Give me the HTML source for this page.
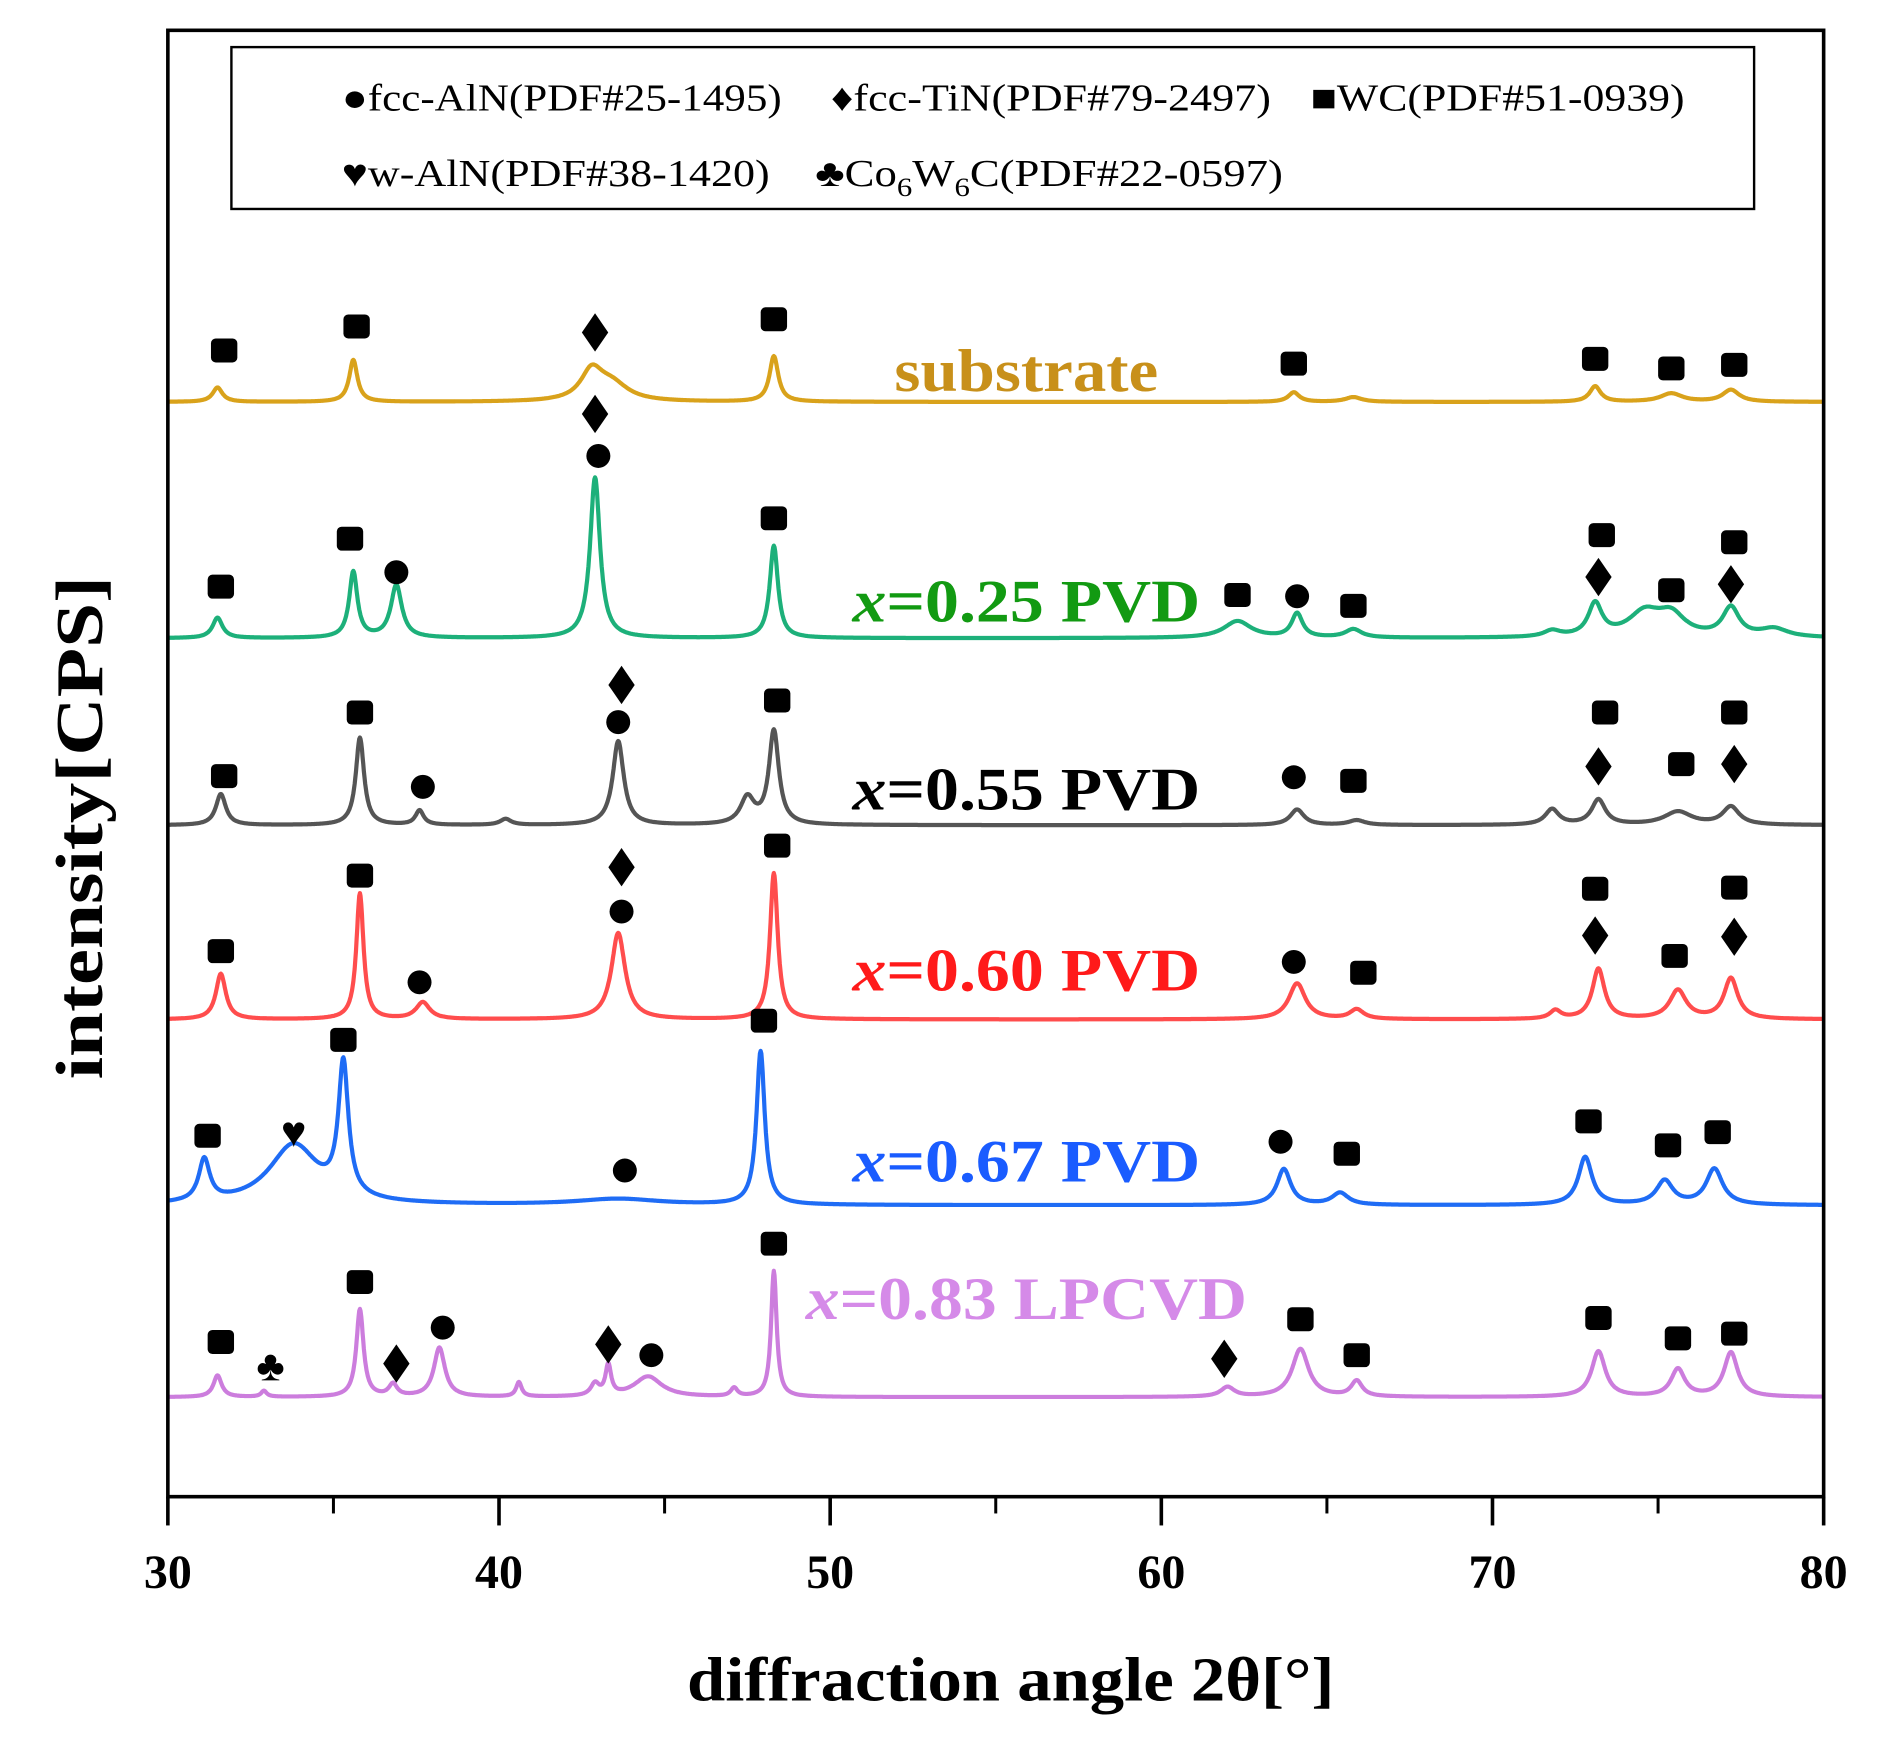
<!DOCTYPE html>
<html><head><meta charset="utf-8"><style>
html,body{margin:0;padding:0;background:#fff;}
svg{display:block;font-family:"Liberation Serif",serif;}
</style></head><body>
<svg id="chart" width="1880" height="1756" viewBox="0 0 1568 1464" xmlns="http://www.w3.org/2000/svg">
<rect x="0" y="0" width="1568" height="1464" fill="#fff"/>
<g id="series"></g>
<g id="markers"></g>
<rect x="140" y="25" width="1381" height="1223" fill="none" stroke="#000" stroke-width="3"/>
<g id="xaxis"></g>
<text x="843" y="1418" text-anchor="middle" font-size="52" font-weight="bold" textLength="540" lengthAdjust="spacingAndGlyphs">diffraction angle 2θ[°]</text>
<text transform="translate(85,690) rotate(-90)" text-anchor="middle" font-size="56" font-weight="bold" textLength="420" lengthAdjust="spacingAndGlyphs">intensity[CPS]</text>
<g>
<rect x="193" y="39" width="1270" height="135" fill="#fff" stroke="#000" stroke-width="2"/>
<text x="285" y="92" font-size="32" textLength="367" lengthAdjust="spacingAndGlyphs">●fcc-AlN(PDF#25-1495)</text>
<text x="693" y="92" font-size="32" textLength="367" lengthAdjust="spacingAndGlyphs">♦fcc-TiN(PDF#79-2497)</text>
<text x="1093" y="92" font-size="32" textLength="312" lengthAdjust="spacingAndGlyphs">■WC(PDF#51-0939)</text>
<text x="285" y="155" font-size="32" textLength="357" lengthAdjust="spacingAndGlyphs">♥w-AlN(PDF#38-1420)</text>
<text x="680" y="155" font-size="32" textLength="390" lengthAdjust="spacingAndGlyphs">♣Co<tspan font-size="22" dy="8">6</tspan><tspan dy="-8">W</tspan><tspan font-size="22" dy="8">6</tspan><tspan dy="-8">C(PDF#22-0597)</tspan></text>
</g>
</svg>
<script>
const xTicks=[30,40,50,60,70,80];
const xMinor=[35,45,55,65,75];
const seriesNames=["substrate","x=0.25 PVD","x=0.55 PVD","x=0.60 PVD","x=0.67 PVD","x=0.83 LPCVD"];
const seriesBase=[335,532,688,850,1005,1165];
const seriesColors=["#d9a21b","#1db07a","#555555","#ff4d4d","#1f6cf5","#cc7ddd"];
const labelColors=["#c8901a","#129a12","#000000","#ff1a1a","#1a5cff","#d58ae8"];
const labelY=[326,518,675,826,985,1100];
const labelWidth=[220,290,290,290,290,368];
const peakPos=[
[31.5,35.6,42.8,43.4,48.3,64.0,65.8,73.1,75.4,77.2],
[31.5,35.6,36.9,42.9,48.3,62.3,64.1,65.8,71.8,73.1,74.6,75.4,77.2,78.5],
[31.6,35.8,37.6,40.2,43.6,47.5,48.3,64.1,65.9,71.8,73.2,75.6,77.2],
[31.6,35.8,37.7,43.6,48.3,64.1,65.9,71.9,73.2,75.6,77.2],
[31.1,33.8,35.3,43.6,47.9,63.7,65.4,72.8,75.2,76.7],
[31.5,32.9,35.8,36.8,38.2,40.6,42.9,43.3,44.5,47.1,48.3,62.0,64.2,65.9,73.2,75.6,77.2]];
const peakHeight=[
[12,35,24,14,38,8,4,13,7,10],
[17,55,44,134,77,14,20,7,5,27,20,17,24,7],
[26,73,12,5,70,22,78,13,4,13,21,11,15],
[38,105,14,72,122,30,8,7,42,24,34],
[35,50,110,5,128,30,10,40,20,30],
[18,5,73,10,41,12,10,25,17,7,105,8,40,13,38,23,37]];
const peakWidth=[
[0.18,0.15,0.4,0.6,0.16,0.2,0.3,0.2,0.4,0.3],
[0.18,0.15,0.2,0.18,0.15,0.5,0.2,0.3,0.3,0.25,0.6,0.5,0.3,0.5],
[0.18,0.15,0.15,0.2,0.2,0.25,0.18,0.25,0.3,0.25,0.25,0.5,0.3],
[0.18,0.13,0.25,0.25,0.14,0.3,0.25,0.2,0.22,0.3,0.25],
[0.2,0.9,0.18,1.5,0.15,0.25,0.3,0.25,0.3,0.3],
[0.15,0.1,0.13,0.15,0.2,0.1,0.15,0.1,0.5,0.12,0.1,0.25,0.3,0.2,0.25,0.25,0.25]];
const markerSeries=[0,0,0,0,0,0,0,0, 1,1,1,1,1,1,1,1,1,1,1,1,1,1, 2,2,2,2,2,2,2,2,2,2,2,2,2, 3,3,3,3,3,3,3,3,3,3,3,3,3, 4,4,4,4,4,4,4,4,4,4, 5,5,5,5,5,5,5,5,5,5,5,5,5,5];
const markerAngle=[31.7,35.7,42.9,48.3,64.0,73.1,75.4,77.3,
42.9,43.0,31.6,35.5,36.9,48.3,62.3,64.1,65.8,73.3,73.2,75.4,77.3,77.2,
31.7,35.8,37.7,43.7,43.6,48.4,64.0,65.8,73.4,73.2,75.7,77.3,77.3,
31.6,35.8,37.6,43.7,43.7,48.4,64.0,66.1,73.1,73.1,75.5,77.3,77.3,
31.2,33.8,35.3,43.8,48.0,63.6,65.6,72.9,75.3,76.8,
31.6,33.1,35.8,36.9,38.3,43.3,44.6,48.3,61.9,64.2,65.9,73.2,75.6,77.3];
const markerHeight=[43,63,58,69,32,36,28,31,
187,152,43,83,55,100,36,35,27,86,51,40,80,45,
41,94,32,117,86,104,40,37,94,49,51,94,51,
57,120,31,127,90,145,48,39,109,70,53,110,69,
58,61,138,29,154,53,43,70,50,61,
46,26,96,28,58,44,35,128,32,65,35,66,49,53];
const markerType=["s","s","d","s","s","s","s","s",
"d","c","s","s","c","s","s","c","s","s","d","s","s","d",
"s","s","c","d","c","s","c","s","s","d","s","s","d",
"s","s","c","d","c","s","c","s","s","d","s","s","d",
"s","h","s","c","s","c","s","s","s","s",
"s","k","s","d","c","d","c","s","d","s","s","s","s","s"];

const NS="http://www.w3.org/2000/svg";
const xS=a=>140+(a-30)*(1381/50);
function mk(tag,attrs,parent){const e=document.createElementNS(NS,tag);for(const k in attrs)e.setAttribute(k,attrs[k]);parent.appendChild(e);return e;}

const xa=document.getElementById('xaxis');
xTicks.forEach(t=>{
  const l=mk('line',{x1:xS(t),x2:xS(t),y1:1248,y2:1272,stroke:'#000','stroke-width':3},xa);
  
  
  const tx=mk('text',{x:xS(t),y:1324,'text-anchor':'middle','font-size':40,'font-weight':'bold'},xa);
  tx.textContent=t;
  
  
});
xMinor.forEach(t=>{
  const l=mk('line',{x1:xS(t),x2:xS(t),y1:1248,y2:1262,stroke:'#000','stroke-width':2.5},xa);
  
  
});

const sg=document.getElementById('series');
function intensity(s,a){let v=0;const P=peakPos[s];for(let i=0;i<P.length;i++){const w=peakWidth[s][i];const d=(a-P[i])/w;v+=peakHeight[s][i]/(1+d*d);}return v;}
seriesNames.forEach((n,s)=>{
  let d='';
  for(let a=30;a<=80.001;a+=0.02){d+=(d?'L':'M')+xS(a).toFixed(1)+','+(seriesBase[s]-intensity(s,a)).toFixed(1);}
  const p=mk('path',{d:d,fill:'none',stroke:seriesColors[s],'stroke-width':3.5,'stroke-linejoin':'round'},sg);
  
  
  const t=mk('text',{x:856,y:labelY[s],'text-anchor':'middle','font-size':50,'font-weight':'bold',fill:labelColors[s],textLength:labelWidth[s],lengthAdjust:'spacingAndGlyphs'},sg);
  
  
  if(n.startsWith('x=')){const i=mk('tspan',{'font-style':'italic'},t);i.textContent='x';const r=mk('tspan',{},t);r.textContent=n.slice(1);}
  else t.textContent=n;
});

const mg=document.getElementById('markers');
markerAngle.forEach((a,i)=>{
  const cx=xS(a), cy=seriesBase[markerSeries[i]]-markerHeight[i], ty=markerType[i];
  let e;
  if(ty==='s') e=mk('rect',{x:cx-11,y:cy-10,width:22,height:20,rx:4,fill:'#000'},mg);
  else if(ty==='c') e=mk('circle',{cx:cx,cy:cy,r:10,fill:'#000'},mg);
  else if(ty==='d') e=mk('polygon',{points:`${cx},${cy-16} ${cx+11},${cy} ${cx},${cy+16} ${cx-11},${cy}`,fill:'#000'},mg);
  else {e=mk('text',{x:cx,y:cy+12,'text-anchor':'middle','font-size':36,fill:'#000'},mg);e.textContent=ty==='h'?'♥':'♣';}
  
  
});
</script>
</body></html>
